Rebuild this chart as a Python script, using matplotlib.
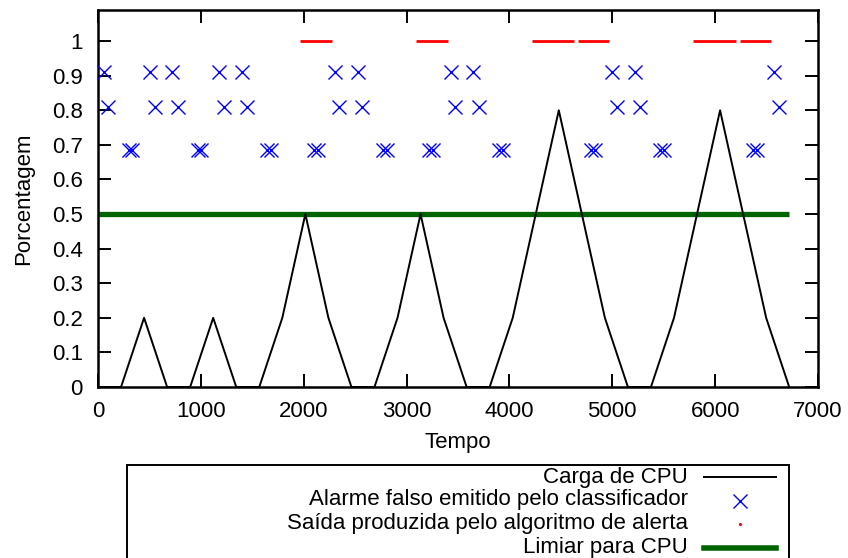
import matplotlib
matplotlib.use('Agg')
import matplotlib.pyplot as plt
from matplotlib.lines import Line2D
from matplotlib.patches import Rectangle

plt.rcParams['font.family'] = ['Liberation Sans', 'DejaVu Sans']

# Carga de CPU (tempo, valor)
tempo_cpu = [0, 224, 448, 672, 896, 1120, 1344, 1568, 1792, 2016, 2240, 2464,
             2688, 2912, 3136, 3360, 3584, 3808, 4032, 4256, 4480, 4704, 4928,
             5152, 5376, 5600, 5824, 6048, 6272, 6496, 6720]
carga_cpu = [0, 0, 0.2, 0, 0, 0.2, 0, 0, 0.2, 0.5, 0.2, 0, 0, 0.2, 0.5, 0.2, 0,
             0, 0.2, 0.5, 0.8, 0.5, 0.2, 0, 0, 0.2, 0.5, 0.8, 0.5, 0.2, 0]

# Alarmes falsos do classificador, em tres faixas
alarme_x1 = [55, 503, 724, 1179, 1400, 2303, 2524, 3428, 3647, 5000, 5224, 6572]
alarme_y1 = 0.91
alarme_x2 = [96, 554, 773, 1224, 1445, 2345, 2570, 3469, 3703, 5049, 5270, 6621]
alarme_y2 = 0.81
alarme_x3 = [300, 330, 968, 1001, 1645, 1678, 2102, 2135, 2773, 2806, 3222,
             3258, 3900, 3933, 4792, 4828, 5464, 5500, 6368, 6405]
alarme_y3 = 0.685

# Saida do algoritmo de alerta (trechos em 1)
alerta_ini = [1963, 3088, 4215, 4665, 5785, 6239]
alerta_fim = [2274, 3398, 4629, 4969, 6200, 6547]

limiar = 0.5
limiar_ini, limiar_fim = 0, 6720

fs = 16

fig = plt.figure(figsize=(8.48, 5.58), dpi=100)
ax = fig.add_axes([98 / 848, 1 - 387 / 558, 720 / 848, 377 / 558])

ax.plot(tempo_cpu, carga_cpu, color='black', lw=1.4, zorder=3)
ax.plot(alarme_x1, [alarme_y1] * len(alarme_x1), 'x', color='#0000ff',
        ms=10, mew=1.0, zorder=4, clip_on=False)
ax.plot(alarme_x2, [alarme_y2] * len(alarme_x2), 'x', color='#0000ff',
        ms=10, mew=1.0, zorder=4)
ax.plot(alarme_x3, [alarme_y3] * len(alarme_x3), 'x', color='#0000ff',
        ms=10, mew=1.0, zorder=4)
ax.hlines([1] * len(alerta_ini), alerta_ini, alerta_fim, color='red',
          lw=2.0, zorder=4)
ax.hlines(limiar, limiar_ini, limiar_fim, color='#006400', lw=3.8, zorder=2)

ax.set_xlim(0, 7000)
ax.set_ylim(0, 1.09)
ax.set_xticks(range(0, 7001, 1000))
ax.set_yticks([i / 10 for i in range(11)])
ax.set_yticklabels(['0', '0.1', '0.2', '0.3', '0.4', '0.5', '0.6', '0.7',
                    '0.8', '0.9', '1'])
ax.tick_params(direction='in', length=9.5, width=1.4, labelsize=fs,
               top=True, right=True)
ax.tick_params(axis='x', pad=10)
ax.tick_params(axis='y', pad=11)
for s in ax.spines.values():
    s.set_linewidth(1.8)
ax.set_xlabel('Tempo', fontsize=fs, labelpad=7)
ax.set_ylabel('Porcentagem', fontsize=fs, labelpad=13)

# legenda abaixo do grafico
fig.patches.append(Rectangle((127 / 848, -0.05), 662 / 848, 0.05 + 1 - 465 / 558,
                             transform=fig.transFigure, fill=False,
                             edgecolor='black', lw=1.4))
rotulos = ['Carga de CPU', 'Alarme falso emitido pelo classificador',
           'Saída produzida pelo algoritmo de alerta', 'Limiar para CPU']
linhas_y = [477, 500, 523, 547]
for rot, py in zip(rotulos, linhas_y):
    fig.text(688 / 848, 1 - py / 558, rot, ha='right', va='center',
             fontsize=fs)
x0, x1 = 704 / 848, 776 / 848
xm = 740 / 848
fig.lines.append(Line2D([x0, x1], [1 - 477 / 558] * 2, color='black', lw=1.4,
                        transform=fig.transFigure))
fig.lines.append(Line2D([xm], [1 - 501 / 558], marker='x', color='#0000ff',
                        ms=10, mew=1.0, transform=fig.transFigure))
fig.lines.append(Line2D([xm], [1 - 524 / 558], marker='.', color='red',
                        ms=2.5, transform=fig.transFigure))
fig.lines.append(Line2D([x0, x1], [1 - 548 / 558] * 2, color='#006400', lw=4.0,
                        transform=fig.transFigure))

fig.savefig('out.png', dpi=100)
